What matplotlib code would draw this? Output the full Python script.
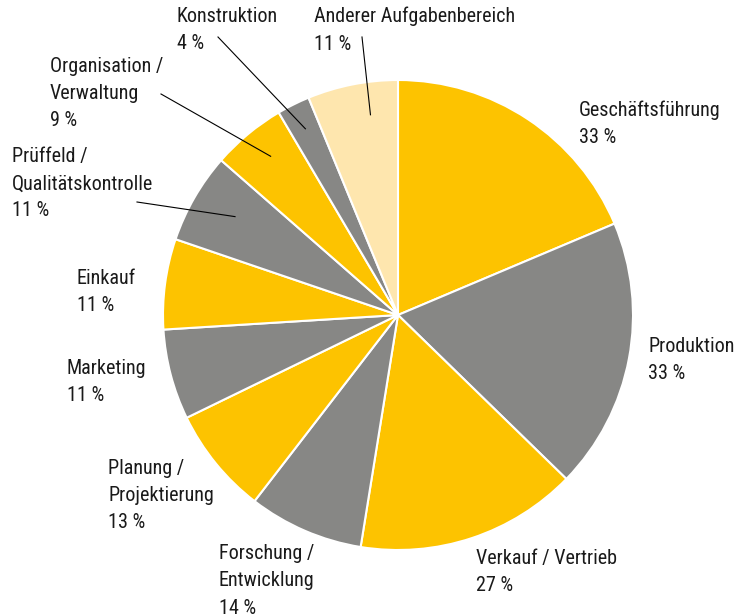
import numpy as np
import matplotlib.pyplot as plt
from matplotlib import font_manager

# narrow font if one is there, otherwise Arial-like Liberation Sans
have = {f.name for f in font_manager.fontManager.ttflist}
narrow = [n for n in ['Roboto Condensed', 'Liberation Sans Narrow', 'Open Sans Condensed'] if n in have]
if narrow:
    plt.rcParams['font.family'] = [narrow[0], 'DejaVu Sans']
    FS = 14.5
else:
    plt.rcParams['font.family'] = ['Liberation Sans', 'DejaVu Sans']
    FS = 12.2

labels = ['Geschäftsführung', 'Produktion', 'Verkauf / Vertrieb',
          'Forschung /\nEntwicklung', 'Planung /\nProjektierung', 'Marketing',
          'Einkauf', 'Prüffeld /\nQualitätskontrolle', 'Organisation /\nVerwaltung',
          'Konstruktion', 'Anderer Aufgabenbereich']
values = [33, 33, 27, 14, 13, 11, 11, 11, 9, 4, 11]

YEL = '#fdc300'
GRY = '#878785'
LIGHT = '#fee6ae'
colors = [YEL, GRY, YEL, GRY, YEL, GRY, YEL, GRY, YEL, GRY, LIGHT]

# label anchor (top-left, in pixels of the 734x616 image)
label_px = [(579, 100), (648, 337), (476, 549), (219, 544), (108, 459),
            (67, 359), (77, 269), (12, 147), (50, 57), (177, 7), (314, 7)]
# leader lines: start pixel, position across slice (0..1), radius fraction
leaders = {7: ((137, 202), 0.45, 0.81), 8: ((161, 94), 0.45, 0.866),
           9: ((218, 37), 0.5, 0.885), 10: ((362, 37), 0.35, 0.86)}

W, H = 734, 616
cx, cy, R = 398, 315, 235

fig = plt.figure(figsize=(W / 100, H / 100), dpi=100)
ax = fig.add_axes([(cx - R) / W, (H - cy - R) / H, 2 * R / W, 2 * R / H])
wedges, _ = ax.pie(values, colors=colors, startangle=90, counterclock=False,
                   radius=1, wedgeprops=dict(edgecolor='white', linewidth=1.5))
ax.set_xlim(-1, 1)
ax.set_ylim(-1, 1)
ax.set_aspect('equal')
ax.axis('off')


def px2data(x, y):
    return (x - cx) / R, (cy - y) / R


for i, (lab, v) in enumerate(zip(labels, values)):
    tx, ty = px2data(*label_px[i])
    ax.text(tx, ty, f'{lab}\n{v} %', ha='left', va='top', fontsize=FS,
            linespacing=1.55, color='#1a1a1a', clip_on=False)
    if i in leaders:
        start, frac, r = leaders[i]
        w = wedges[i]
        ang = np.deg2rad(w.theta1 + frac * (w.theta2 - w.theta1))
        ex, ey = r * np.cos(ang), r * np.sin(ang)
        sx, sy = px2data(*start)
        ax.plot([sx, ex], [sy, ey], color='black', linewidth=0.8, clip_on=False)

fig.savefig('out.png', dpi=100)
